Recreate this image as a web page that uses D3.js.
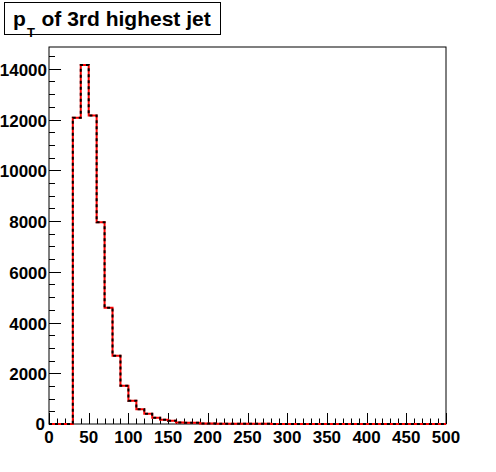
<!DOCTYPE html>
<html>
<head>
<meta charset="utf-8">
<script src="https://cdn.jsdelivr.net/npm/d3@7"></script>
<style>
  body { margin: 0; background: #fff; }
  text { font-family: "Liberation Sans", Arial, sans-serif; font-weight: bold; }
</style>
</head>
<body>
<svg id="chart" width="496" height="472"></svg>
<script>
// bin edges: 0..500 in steps of 10
const binEdges = d3.range(0, 510, 10);
// bin contents
const counts = [
  0, 0, 0, 12070, 14150, 12160, 7950, 4580, 2690, 1510,
  920, 580, 400, 250, 165, 125, 55, 50, 45, 22,
  18, 14, 11, 9, 8, 7, 6, 5, 4, 3,
  3, 2, 2, 2, 1, 1, 1, 1, 1, 1,
  1, 0, 0, 0, 0, 0, 0, 0, 0, 0
];
const xTickLabels = [0, 50, 100, 150, 200, 250, 300, 350, 400, 450, 500];
const yTickLabels = [0, 2000, 4000, 6000, 8000, 10000, 12000, 14000];
const titleMain = 'of 3rd highest jet';

const svg = d3.select('#chart');
const padL = 49, padR = 446, padT = 47, padB = 424;
const FONT = 17;

const x = d3.scaleLinear().domain([0, 500]).range([padL, padR]);
const y = d3.scaleLinear().domain([0, d3.max(counts) * 1.05]).range([padB, padT]);

// frame
svg.append('rect')
  .attr('x', padL).attr('y', padT)
  .attr('width', padR - padL).attr('height', padB - padT)
  .attr('fill', 'none').attr('stroke', '#000').attr('stroke-width', 1);

// x ticks
const xMinor = d3.range(0, 501, 10);
svg.append('g').selectAll('line')
  .data(xMinor)
  .enter().append('line')
  .attr('x1', d => Math.round(x(d)) + 0.5).attr('x2', d => Math.round(x(d)) + 0.5)
  .attr('y1', padB)
  .attr('y2', d => d % 50 === 0 ? padB - 11 : padB - 5.5)
  .attr('stroke', '#000');

svg.append('g').selectAll('text')
  .data(xTickLabels)
  .enter().append('text')
  .attr('x', d => x(d))
  .attr('y', 442.5)
  .attr('text-anchor', 'middle')
  .attr('font-size', FONT)
  .text(d => d);

// y ticks
const yMinor = d3.range(0, 14501, 500);
svg.append('g').selectAll('line')
  .data(yMinor)
  .enter().append('line')
  .attr('y1', d => Math.round(y(d)) + 0.5).attr('y2', d => Math.round(y(d)) + 0.5)
  .attr('x1', padL)
  .attr('x2', d => d % 2000 === 0 ? padL + 12 : padL + 6)
  .attr('stroke', '#000');

svg.append('g').selectAll('text')
  .data(yTickLabels)
  .enter().append('text')
  .attr('x', d => d === 0 ? 45 : 47)
  .attr('y', d => y(d) + (d === 0 ? 6 : 7))
  .attr('text-anchor', 'end')
  .attr('font-size', FONT)
  .text(d => d);

// histogram outline
const pts = [];
counts.forEach((c, i) => {
  pts.push([binEdges[i], c]);
  pts.push([binEdges[i + 1], c]);
});
const line = d3.line().x(d => x(d[0])).y(d => y(d[1]));

svg.append('path')
  .attr('d', line(pts))
  .attr('fill', 'none')
  .attr('stroke', '#ff0000')
  .attr('stroke-width', 2);

svg.append('path')
  .attr('d', line(pts))
  .attr('fill', 'none')
  .attr('stroke', '#000')
  .attr('stroke-width', 2)
  .attr('stroke-dasharray', '3,3');

// title box
svg.append('rect')
  .attr('x', 4.5).attr('y', 2.5)
  .attr('width', 216).attr('height', 32)
  .attr('fill', '#fff').attr('stroke', '#000');

svg.append('text').attr('x', 13).attr('y', 25.5).attr('font-size', 21).text('p');
svg.append('text').attr('x', 27).attr('y', 37).attr('font-size', 13).text('T');
svg.append('text').attr('x', 41.5).attr('y', 25.5).attr('font-size', 21).text(titleMain);
</script>
</body>
</html>
